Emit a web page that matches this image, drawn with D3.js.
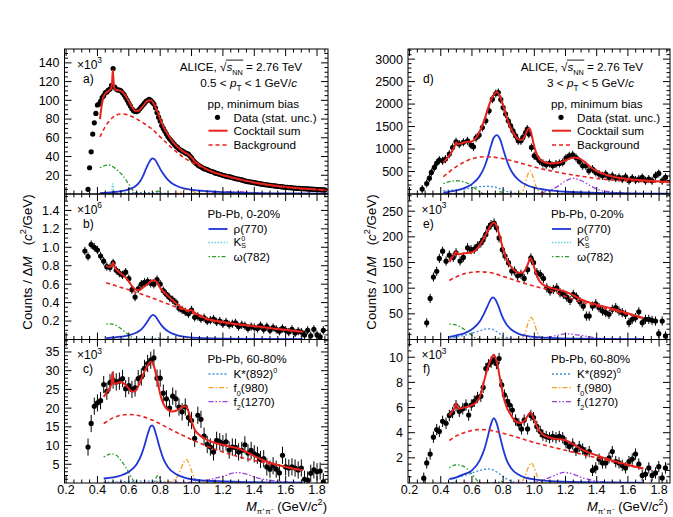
<!DOCTYPE html>
<html><head><meta charset="utf-8">
<script src="https://cdn.jsdelivr.net/npm/d3@7/dist/d3.min.js"></script>
<style>html,body{margin:0;padding:0;background:#fff;}svg{display:block}</style>
</head><body>
<svg id="chart" width="673" height="517"></svg>
<script>
// ================= DATA =================
const massTicks = [0.2,0.4,0.6,0.8,1.0,1.2,1.4,1.6,1.8];
const yTicksA = [20,40,60,80,100,120,140];
const yTicksB = [0.2,0.4,0.6,0.8,1.0,1.2,1.4];
const yTicksC = [5,10,15,20,25,30,35];
const yTicksD = [500,1000,1500,2000,2500,3000];
const yTicksE = [50,100,150,200,250];
const yTicksF = [2,4,6,8,10];

// panel a: pp 0.5<pT<1 (x10^3), bins of 0.01 from 0.34
const countsA = [5,28,45,64,76,86,95,96,99,103,
 105,108,109,111,112,116,134,114,112,111,
 111,110,108,106,103,100,97,94,91,89,
 88,88,89,91,93,95,97,99,100,101,
 100,98,96,92,87,82,78,73,70,67,
 64,61,59,57,55,53,51,50,48,47,
 46,45,44,43,42.5,40.5,38.5,36,34,32.5,
 31,30,29,28,27,26.5,26,25,24.5,24,
 23.5,22.5,22,21.5,21,20.5,20,19.5,19,18.5,
 18.5,18,17.5,17,16.5,16,16,15.5,15,14.5,
 14,13.5,13.2,13,12.7,12.4,12.1,11.8,11.5,11.1,
 10.8,10.5,10.2,10,9.8,9.5,9.3,9,8.8,8.6,
 8.4,8.2,8,7.8,7.6,7.4,7.2,7,6.9,6.7,
 6.6,6.4,6.3,6.1,6,5.9,5.8,5.7,5.6,5.5,
 5.4,5.3,5.2,5.1,5,4.9,4.8,4.7,4.6,4.5,
 4.4,4.3];
const massA = d3.range(countsA.length).map(i => +(0.34 + i * 0.01).toFixed(2));

// panel b: Pb-Pb 0-20% low pT (x10^6), bins of 0.02 from 0.32
const countsB = [0.96,0.90,1.03,1.00,0.97,0.905,0.85,0.79,0.78,0.83,
 0.75,0.72,0.70,0.73,0.66,0.54,0.46,0.55,0.60,0.62,
 0.63,0.61,0.60,0.65,0.60,0.53,0.49,0.455,0.43,0.40,
 0.34,0.32,0.30,0.28,0.32,0.24,0.25,0.225,0.235,0.20,
 0.21,0.22,0.19,0.20,0.17,0.19,0.16,0.17,0.18,0.14,
 0.16,0.15,0.12,0.14,0.13,0.12,0.15,0.11,0.14,0.10,
 0.13,0.11,0.09,0.12,0.10,0.08,0.11,0.07,0.09,0.08,
 0.05,0.10,0.04,0.11,0.05,0.03,0.10];
const massB = d3.range(countsB.length).map(i => +(0.32 + i * 0.02).toFixed(2));

// panel c: Pb-Pb 60-80% low pT (x10^3), bins of 0.02 from 0.34
const countsC = [9.6,15.9,20.5,21.4,22.0,26.3,24.5,26.8,27.5,27.0,
 27.2,27.9,25.2,26.0,25.0,25.4,27.9,28.3,30.6,31.9,
 32.8,33.4,28.0,28.0,24.0,22.5,20.0,23.2,22.5,20.3,
 19.0,20.3,17.5,16.7,11.9,18.1,17.0,12.5,10.3,9.6,
 8.3,11.4,11.0,10.5,11.0,8.8,9.6,9.5,8.3,8.7,
 10.2,8.0,8.7,7.8,7.4,6.3,6.5,4.3,3.7,4.6,
 3.7,2.7,7.4,4.3,4.0,4.3,4.0,3.5,4.0,1.0,
 0.8,2.6,3.5,3.0,3.2,0.3];
const massC = d3.range(countsC.length).map(i => +(0.34 + i * 0.02).toFixed(2));

// panel d: pp 3<pT<5, [mass, counts]
const pointsD = [[0.281,109],[0.31,234],[0.327,353],[0.34,479],[0.359,590],[0.374,687],[0.391,754],[0.412,738],[0.43,776],[0.455,887],[0.476,1034],[0.498,1161],[0.519,1110],[0.545,1150],[0.572,1183],[0.594,1090],[0.61,1050],[0.626,1250],[0.646,1310],[0.667,1479],[0.689,1628],[0.71,1850],[0.731,2110],[0.753,2235],[0.769,2258],[0.785,2100],[0.80,1924],[0.816,1777],[0.833,1628],[0.848,1517],[0.863,1406],[0.88,1295],[0.897,1183],[0.914,1183],[0.927,1258],[0.944,1368],[0.955,1443],[0.965,1332],[0.982,1035],[0.999,850],[1.016,812],[1.033,738],[1.055,680],[1.076,650],[1.097,680],[1.118,628],[1.139,665],[1.161,680],[1.182,702],[1.203,800],[1.224,850],[1.246,873],[1.267,812],[1.288,725],[1.31,628],[1.33,628],[1.35,517],[1.373,554],[1.394,480],[1.415,443],[1.437,406],[1.458,443],[1.479,369],[1.5,406],[1.522,354],[1.543,369],[1.564,332],[1.585,384],[1.607,295],[1.628,354],[1.649,310],[1.67,332],[1.692,369],[1.713,295],[1.734,332],[1.755,295],[1.777,406],[1.798,458],[1.82,295],[1.841,369]];
// panel e: Pb-Pb 0-20% 3<pT<5 (x10^3)
const pointsE = [[0.31,32.5],[0.332,80],[0.353,121.6],[0.374,133],[0.391,158],[0.412,172],[0.434,152.7],[0.455,164.4],[0.48,160],[0.498,169],[0.524,153],[0.545,160],[0.572,178.7],[0.594,175],[0.615,176],[0.635,182],[0.657,188],[0.671,194],[0.689,204.7],[0.706,217.7],[0.723,224],[0.742,227],[0.757,217.7],[0.774,198],[0.795,175],[0.812,162.5],[0.834,149.7],[0.855,133.5],[0.872,133.5],[0.893,124],[0.914,127],[0.935,119],[0.957,136],[0.978,159],[0.995,149.7],[1.016,130.3],[1.038,127],[1.059,119],[1.08,100.7],[1.101,94.3],[1.122,97.5],[1.144,100.7],[1.165,91],[1.186,88],[1.208,82.6],[1.229,76],[1.25,88],[1.271,82.6],[1.292,73.5],[1.314,65],[1.334,45.6],[1.352,45.6],[1.373,65],[1.394,69.7],[1.415,62],[1.437,55.5],[1.458,52.3],[1.479,49],[1.5,58.8],[1.522,62],[1.543,55.5],[1.564,52.3],[1.585,49],[1.607,32.8],[1.628,39.3],[1.649,42.6],[1.67,54],[1.692,32.8],[1.713,39.3],[1.734,39.3],[1.755,37.3],[1.777,36],[1.798,11.4],[1.82,36],[1.841,6.9]];
// panel f: Pb-Pb 60-80% 3<pT<5 (x10^3)
const pointsF = [[0.291,0.38],[0.31,1.6],[0.332,2.3],[0.353,3.64],[0.374,4.25],[0.391,4.1],[0.412,4.9],[0.434,4.75],[0.455,5.37],[0.476,5.6],[0.498,6.16],[0.519,5.7],[0.541,5.9],[0.562,6.2],[0.579,5.4],[0.596,6.2],[0.615,6.5],[0.636,6.8],[0.657,6.9],[0.672,7.6],[0.689,9.1],[0.706,9.4],[0.723,9.6],[0.742,9.8],[0.757,9.5],[0.774,9.9],[0.791,7.8],[0.808,7.0],[0.827,6.5],[0.842,6.2],[0.859,5.8],[0.88,5.0],[0.901,4.7],[0.918,4.3],[0.935,5.0],[0.957,4.3],[0.978,5.37],[0.995,5.2],[1.016,4.5],[1.038,4.1],[1.055,3.8],[1.076,3.7],[1.097,3.6],[1.118,3.7],[1.139,3.6],[1.16,3.7],[1.182,3.6],[1.203,3.2],[1.224,2.9],[1.246,3.1],[1.267,2.6],[1.288,2.9],[1.31,2.7],[1.33,2.4],[1.352,2.5],[1.373,1.0],[1.394,1.2],[1.415,1.9],[1.437,1.6],[1.458,1.6],[1.479,2.0],[1.5,2.5],[1.522,1.7],[1.543,1.6],[1.564,1.4],[1.585,1.2],[1.607,1.7],[1.628,1.9],[1.649,2.3],[1.67,1.5],[1.692,0.6],[1.713,0.7],[1.734,1.2],[1.755,0.6],[1.777,0.8],[1.798,1.3],[1.82,0.4],[1.841,1.2]];

const statErr = [1.2, 0.045, 2.3, 90, 9, 0.45];

// ---- fitted curves [mass, value] ----
const sumA = [[0.416,80],[0.425,92],[0.435,102],[0.45,107],[0.47,110],[0.485,112],[0.493,118],[0.498,132],[0.503,120],[0.51,111.5],[0.53,111],[0.55,110],[0.57,107],[0.60,99],[0.62,93],[0.64,89],[0.66,89],[0.68,92],[0.70,96],[0.72,99.5],[0.74,100],[0.76,96],[0.78,89],[0.80,80],[0.82,72],[0.84,66],[0.86,61],[0.88,56],[0.90,52],[0.92,49],[0.94,46],[0.96,44],[0.98,42],[1.00,39],[1.02,35],[1.05,31],[1.10,26],[1.15,22.5],[1.20,20],[1.25,18],[1.30,16],[1.35,14],[1.40,12.3],[1.50,9.5],[1.60,7.4],[1.70,5.9],[1.80,4.8],[1.87,4.3]];
const bkgA = [[0.416,61],[0.45,72],[0.50,82],[0.55,85.5],[0.60,84],[0.65,80],[0.70,75],[0.75,69],[0.80,61],[0.85,53],[0.90,45.5],[0.95,39],[1.00,34],[1.10,26],[1.20,20],[1.30,15.5],[1.40,12],[1.50,9.3],[1.60,7.2],[1.70,5.7],[1.80,4.6],[1.87,4.2]];
const rhoA = [[0.416,1],[0.50,2],[0.55,3],[0.60,5],[0.64,8],[0.67,13],[0.69,19],[0.71,27],[0.73,34],[0.75,38],[0.77,36],[0.79,30],[0.81,24],[0.84,17],[0.87,12],[0.90,9],[0.95,6],[1.00,4.5],[1.10,3],[1.20,2],[1.40,1],[1.60,0.6],[1.87,0.3]];
const omegaA = [[0.416,28],[0.44,30],[0.47,31],[0.50,29],[0.53,25],[0.56,20],[0.59,13],[0.61,8],[0.63,3],[0.65,0.5],[0.67,0],[0.76,0],[0.775,2.5],[0.785,3],[0.795,2.5],[0.81,0],[1.87,0]];
const ksA = [[0.416,0],[0.485,0],[0.492,4],[0.498,11],[0.504,4],[0.511,0],[1.87,0]];
const kstarA = [[0.416,0.5],[0.6,1],[0.7,1.5],[0.8,1],[0.9,0.2],[1.0,0],[1.87,0]];
const f0A = [[0.416,0],[0.85,0],[0.92,1],[0.95,4],[0.975,6],[1.0,4],[1.03,1],[1.1,0],[1.87,0]];
const f2A = [[0.416,0],[1.0,0],[1.1,0.8],[1.2,2],[1.27,2.6],[1.35,2],[1.45,0.8],[1.6,0.2],[1.87,0]];

const sumB = [[0.456,0.80],[0.47,0.79],[0.485,0.79],[0.494,0.815],[0.499,0.835],[0.505,0.81],[0.515,0.77],[0.54,0.73],[0.57,0.69],[0.60,0.63],[0.62,0.58],[0.64,0.545],[0.66,0.535],[0.68,0.55],[0.70,0.575],[0.72,0.60],[0.74,0.63],[0.76,0.645],[0.78,0.62],[0.80,0.56],[0.82,0.52],[0.84,0.49],[0.86,0.455],[0.88,0.425],[0.90,0.395],[0.92,0.365],[0.94,0.34],[0.96,0.325],[0.98,0.315],[0.995,0.32],[1.01,0.305],[1.03,0.28],[1.06,0.255],[1.10,0.225],[1.20,0.19],[1.30,0.165],[1.40,0.145],[1.50,0.125],[1.60,0.105],[1.708,0.085]];
const bkgB = [[0.456,0.615],[0.55,0.565],[0.65,0.51],[0.75,0.45],[0.85,0.385],[0.95,0.32],[1.0,0.29],[1.1,0.215],[1.2,0.18],[1.3,0.158],[1.4,0.14],[1.5,0.12],[1.6,0.1],[1.708,0.082]];
const rhoB = [[0.456,0.015],[0.55,0.03],[0.60,0.045],[0.65,0.075],[0.68,0.11],[0.70,0.15],[0.72,0.20],[0.74,0.25],[0.755,0.268],[0.77,0.25],[0.79,0.20],[0.81,0.15],[0.84,0.10],[0.87,0.07],[0.90,0.05],[0.95,0.03],[1.0,0.02],[1.2,0.01],[1.708,0.003]];
const omegaB = [[0.456,0.17],[0.48,0.17],[0.51,0.16],[0.54,0.13],[0.57,0.09],[0.60,0.05],[0.62,0.025],[0.64,0.005],[0.66,0],[0.76,0],[0.775,0.015],[0.785,0.02],[0.795,0.015],[0.81,0],[1.708,0]];
const ksB = [[0.456,0],[0.485,0],[0.493,0.02],[0.498,0.03],[0.503,0.02],[0.511,0],[1.708,0]];
const kstarB = [[0.456,0.003],[0.7,0.008],[0.9,0.002],[1.0,0],[1.708,0]];
const f0B = [[0.456,0],[0.85,0],[0.93,0.005],[0.975,0.012],[1.02,0.005],[1.1,0],[1.708,0]];
const f2B = [[0.456,0],[1.0,0],[1.2,0.005],[1.3,0.006],[1.45,0.003],[1.708,0]];

const sumC = [[0.44,23],[0.46,24.3],[0.48,25.5],[0.49,26.5],[0.495,29.5],[0.50,28.5],[0.505,26.5],[0.52,26.6],[0.55,27],[0.58,26.2],[0.60,25.2],[0.62,24.4],[0.64,24.5],[0.66,25.8],[0.68,27.8],[0.70,29.8],[0.72,31.4],[0.74,32.4],[0.76,31.2],[0.78,27.8],[0.80,23.8],[0.82,21.2],[0.84,19.9],[0.86,19.3],[0.88,19.1],[0.90,19.3],[0.92,19.7],[0.94,20.3],[0.96,20.5],[0.98,19.2],[1.00,16.5],[1.02,14.3],[1.05,12.8],[1.10,11.5],[1.15,10.7],[1.20,10.2],[1.25,9.7],[1.30,9.2],[1.35,8.3],[1.40,7.2],[1.45,6.2],[1.50,5.4],[1.55,4.8],[1.60,4.3],[1.65,3.8],[1.708,3.4]];
const bkgC = [[0.44,15.9],[0.5,17.4],[0.55,18.1],[0.6,18.3],[0.65,18.1],[0.7,17.6],[0.75,16.8],[0.8,15.8],[0.85,14.7],[0.9,13.6],[0.95,12.6],[1.0,11.6],[1.05,10.7],[1.1,9.8],[1.2,8.3],[1.3,7.0],[1.4,6.0],[1.5,5.1],[1.6,4.3],[1.708,3.4]];
const rhoC = [[0.44,1.2],[0.5,1.5],[0.55,2],[0.6,3],[0.65,5],[0.68,7.5],[0.70,10],[0.72,13],[0.74,15.2],[0.75,15.4],[0.76,14.8],[0.78,12],[0.80,9],[0.82,6.5],[0.85,4.2],[0.9,2.4],[0.95,1.5],[1.0,1.0],[1.1,0.6],[1.3,0.3],[1.708,0.1]];
const omegaC = [[0.44,6.9],[0.47,7.6],[0.49,7.8],[0.52,7.4],[0.55,6.0],[0.58,4.2],[0.60,2.8],[0.62,1.2],[0.64,0.3],[0.66,0],[0.76,0],[0.775,1.5],[0.785,2.0],[0.795,1.5],[0.81,0],[1.708,0]];
const ksC = [[0.44,0],[0.485,0],[0.493,0.3],[0.498,0.5],[0.503,0.3],[0.511,0],[1.708,0]];
const kstarC = [[0.44,0.2],[0.6,0.4],[0.7,0.5],[0.8,0.4],[0.9,0.15],[1.0,0.05],[1.708,0]];
const f0C = [[0.44,0],[0.85,0.2],[0.88,0.6],[0.91,1.8],[0.93,3.5],[0.95,5.5],[0.965,6.3],[0.98,5.6],[1.0,3.2],[1.02,1.3],[1.05,0.4],[1.1,0.1],[1.708,0]];
const f2C = [[0.44,0],[1.0,0.2],[1.1,0.8],[1.2,1.8],[1.29,2.8],[1.35,2.4],[1.4,1.6],[1.5,0.7],[1.6,0.3],[1.708,0.1]];

const sumD = [[0.417,700],[0.44,790],[0.46,880],[0.48,1000],[0.49,1080],[0.50,1145],[0.51,1110],[0.53,1120],[0.55,1150],[0.58,1160],[0.60,1170],[0.62,1220],[0.64,1320],[0.66,1470],[0.68,1650],[0.70,1870],[0.72,2070],[0.74,2210],[0.76,2270],[0.78,2170],[0.80,1970],[0.82,1740],[0.84,1540],[0.86,1390],[0.88,1280],[0.90,1210],[0.92,1200],[0.935,1260],[0.95,1380],[0.965,1460],[0.975,1420],[0.99,1200],[1.00,1050],[1.02,850],[1.05,730],[1.10,680],[1.15,690],[1.20,750],[1.25,810],[1.28,800],[1.32,720],[1.36,600],[1.40,510],[1.45,440],[1.50,390],[1.60,335],[1.70,305],[1.80,280],[1.87,270]];
const bkgD = [[0.417,383],[0.45,480],[0.5,610],[0.55,710],[0.6,785],[0.65,822],[0.7,830],[0.75,815],[0.8,785],[0.85,745],[0.9,700],[0.95,650],[1.0,600],[1.1,520],[1.2,450],[1.3,395],[1.4,345],[1.5,310],[1.6,290],[1.7,275],[1.8,263],[1.87,258]];
const rhoD = [[0.417,30],[0.5,80],[0.55,130],[0.6,220],[0.65,400],[0.68,600],[0.70,800],[0.72,1050],[0.74,1250],[0.76,1310],[0.78,1220],[0.80,1000],[0.82,780],[0.84,600],[0.87,420],[0.90,310],[0.95,200],[1.0,140],[1.1,80],[1.2,50],[1.4,25],[1.6,15],[1.87,8]];
const omegaD = [[0.417,230],[0.45,270],[0.50,295],[0.55,270],[0.60,180],[0.63,100],[0.66,30],[0.68,0],[0.76,0],[0.775,40],[0.785,50],[0.795,40],[0.81,0],[1.87,0]];
const ksD = [[0.417,0],[0.485,0],[0.493,25],[0.498,40],[0.503,25],[0.511,0],[1.87,0]];
const kstarD = [[0.417,70],[0.45,80],[0.5,90],[0.55,110],[0.6,140],[0.65,165],[0.7,172],[0.75,150],[0.8,85],[0.85,30],[0.9,10],[1.0,2],[1.87,0]];
const f0D = [[0.417,0],[0.9,5],[0.92,40],[0.94,200],[0.96,450],[0.975,510],[0.99,400],[1.01,180],[1.03,60],[1.06,10],[1.1,0],[1.87,0]];
const f2D = [[0.417,0],[1.0,10],[1.05,30],[1.1,80],[1.15,170],[1.2,290],[1.25,350],[1.3,300],[1.35,200],[1.4,110],[1.5,40],[1.6,15],[1.87,3]];

const sumE = [[0.455,151],[0.48,163],[0.49,166],[0.495,171],[0.50,170],[0.51,166],[0.55,168],[0.60,170],[0.62,173],[0.65,184],[0.68,199],[0.70,211],[0.72,222],[0.74,228],[0.76,220],[0.78,199],[0.80,176],[0.82,158],[0.84,146],[0.86,138],[0.88,133],[0.90,130],[0.92,130],[0.94,135],[0.96,148],[0.975,159],[0.99,150],[1.00,140],[1.02,121],[1.05,108],[1.10,101],[1.15,97],[1.20,93],[1.25,86],[1.30,78],[1.40,68],[1.50,60],[1.60,51],[1.70,42]];
const bkgE = [[0.455,115],[0.5,122],[0.55,128],[0.6,131],[0.65,132],[0.7,131],[0.75,128],[0.8,123],[0.85,118],[0.9,113],[0.95,108],[1.0,104],[1.1,96],[1.2,84],[1.3,73],[1.4,65],[1.5,57],[1.6,49],[1.7,40.5]];
const rhoE = [[0.455,5],[0.5,8],[0.55,12],[0.6,20],[0.65,35],[0.68,52],[0.70,65],[0.72,78],[0.735,82],[0.75,78],[0.77,65],[0.79,48],[0.82,30],[0.85,20],[0.9,11],[0.95,7],[1.0,5],[1.1,3],[1.3,1.5],[1.7,0.5]];
const omegaE = [[0.455,30],[0.5,28],[0.55,20],[0.6,8],[0.63,2],[0.65,0],[0.76,0],[0.775,3],[0.785,4],[0.795,3],[0.81,0],[1.7,0]];
const ksE = [[0.455,0],[0.485,0],[0.493,5],[0.498,8],[0.503,5],[0.511,0],[1.7,0]];
const kstarE = [[0.455,3],[0.5,5],[0.55,8],[0.6,12],[0.65,17],[0.7,21],[0.73,20],[0.76,15],[0.8,7],[0.85,2],[0.9,0.5],[1.0,0],[1.7,0]];
const f0E = [[0.455,0],[0.9,0.5],[0.92,3],[0.94,12],[0.96,32],[0.98,43],[1.0,32],[1.02,12],[1.04,3],[1.06,0.5],[1.1,0],[1.7,0]];
const f2E = [[0.455,0],[1.0,1],[1.1,5],[1.2,11],[1.3,8],[1.4,3],[1.5,1],[1.7,0.2]];

const sumF = [[0.455,5.37],[0.48,5.8],[0.49,6.0],[0.495,6.3],[0.50,6.25],[0.51,5.9],[0.55,6.0],[0.60,6.2],[0.64,6.6],[0.66,7.2],[0.68,8.2],[0.70,9.1],[0.72,9.8],[0.74,10.2],[0.76,9.6],[0.78,8.3],[0.80,7.0],[0.82,6.1],[0.84,5.6],[0.86,5.2],[0.88,4.9],[0.90,4.8],[0.92,4.8],[0.94,5.0],[0.96,5.4],[0.975,5.6],[0.99,5.3],[1.00,5.0],[1.02,4.4],[1.05,3.9],[1.10,3.6],[1.15,3.5],[1.20,3.4],[1.25,3.1],[1.30,2.7],[1.40,2.2],[1.50,1.8],[1.60,1.45],[1.70,1.15]];
const bkgF = [[0.455,3.38],[0.5,3.75],[0.55,4.0],[0.6,4.18],[0.65,4.25],[0.7,4.22],[0.75,4.1],[0.8,3.95],[0.85,3.78],[0.9,3.6],[0.95,3.4],[1.0,3.22],[1.1,2.9],[1.2,2.6],[1.3,2.3],[1.4,2.0],[1.5,1.7],[1.6,1.4],[1.7,1.12]];
const rhoF = [[0.455,0.3],[0.5,0.45],[0.55,0.7],[0.6,1.0],[0.65,1.8],[0.68,2.7],[0.70,3.6],[0.72,4.6],[0.74,5.15],[0.76,4.7],[0.78,3.7],[0.80,2.7],[0.82,1.9],[0.85,1.2],[0.9,0.65],[0.95,0.4],[1.0,0.28],[1.1,0.15],[1.3,0.07],[1.7,0.03]];
const omegaF = [[0.455,1.2],[0.5,1.45],[0.55,1.3],[0.6,0.7],[0.63,0.25],[0.65,0],[0.76,0],[0.775,0.1],[0.785,0.15],[0.795,0.1],[0.81,0],[1.7,0]];
const ksF = [[0.455,0],[0.485,0],[0.493,0.1],[0.498,0.15],[0.503,0.1],[0.511,0],[1.7,0]];
const kstarF = [[0.455,0.35],[0.5,0.45],[0.55,0.6],[0.6,0.8],[0.65,1.0],[0.7,1.12],[0.74,1.0],[0.78,0.7],[0.82,0.35],[0.86,0.12],[0.9,0.03],[1.0,0],[1.7,0]];
const f0F = [[0.455,0],[0.9,0.02],[0.92,0.1],[0.94,0.5],[0.96,1.2],[0.98,1.6],[1.0,1.2],[1.02,0.5],[1.04,0.15],[1.06,0.03],[1.1,0],[1.7,0]];
const f2F = [[0.455,0],[1.0,0.05],[1.05,0.2],[1.1,0.45],[1.15,0.7],[1.19,0.85],[1.25,0.7],[1.3,0.45],[1.4,0.15],[1.5,0.05],[1.7,0]];

// ================= DRAWING =================
const FONT = "'Liberation Sans', Arial, Helvetica, sans-serif";
const svg = d3.select("#chart");
svg.append("rect").attr("width",673).attr("height",517).attr("fill","#fff");

const cols = [[64.5, 328], [408, 670]];
const rows = [[49, 194], [194, 339.5], [339.5, 483]];
const massDomain = [0.19, 1.87];

const styles = {
  ks:    {color:"#5fd0e0", width:1.3, dash:"1.5,1.5"},
  omega: {color:"#2a9d2a", width:1.3, dash:"1.5,2,4,2"},
  kstar: {color:"#3f90e0", width:1.3, dash:"2,2"},
  f0:    {color:"#f4a024", width:1.3, dash:"5,2,1.5,2"},
  f2:    {color:"#9a40e0", width:1.3, dash:"5,2,1.5,2,1.5,2"},
  rho:   {color:"#1f36d6", width:1.8, dash:null},
  bkg:   {color:"#e8221c", width:1.6, dash:"4,3"},
  sum:   {color:"#e8221c", width:2.0, dash:null}
};
const drawOrder = ["ks","omega","kstar","f0","f2","rho","bkg","sum"];

function zip(m, v){ return m.map((x,i)=>[x, v[i]]); }

const panels = [
 {id:"a", col:0, row:0, yMax:154.8, ticks:yTicksA, minor:5, fmt:d3.format("d"), exp:"3", pts:zip(massA,countsA), err:statErr[0],
  curves:{sum:sumA,bkg:bkgA,rho:rhoA,omega:omegaA,ks:ksA,kstar:kstarA,f0:f0A,f2:f2A}},
 {id:"b", col:0, row:1, yMax:1.578, ticks:yTicksB, minor:0.05, fmt:d3.format(".1f"), exp:"6", pts:zip(massB,countsB), err:statErr[1],
  curves:{sum:sumB,bkg:bkgB,rho:rhoB,omega:omegaB,ks:ksB,kstar:kstarB,f0:f0B,f2:f2B}},
 {id:"c", col:0, row:2, yMax:38.33, ticks:yTicksC, minor:1, fmt:d3.format("d"), exp:"3", pts:zip(massC,countsC), err:statErr[2],
  curves:{sum:sumC,bkg:bkgC,rho:rhoC,omega:omegaC,ks:ksC,kstar:kstarC,f0:f0C,f2:f2C}},
 {id:"d", col:1, row:0, yMax:3225, ticks:yTicksD, minor:100, fmt:d3.format("d"), exp:null, pts:pointsD, err:statErr[3],
  curves:{sum:sumD,bkg:bkgD,rho:rhoD,omega:omegaD,ks:ksD,kstar:kstarD,f0:f0D,f2:f2D}},
 {id:"e", col:1, row:1, yMax:283.5, ticks:yTicksE, minor:10, fmt:d3.format("d"), exp:"3", pts:pointsE, err:statErr[4],
  curves:{sum:sumE,bkg:bkgE,rho:rhoE,omega:omegaE,ks:ksE,kstar:kstarE,f0:f0E,f2:f2E}},
 {id:"f", col:1, row:2, yMax:11.41, ticks:yTicksF, minor:0.5, fmt:d3.format("d"), exp:"3", pts:pointsF, err:statErr[5],
  curves:{sum:sumF,bkg:bkgF,rho:rhoF,omega:omegaF,ks:ksF,kstar:kstarF,f0:f0F,f2:f2F}}
];

function rich(g, x, y, parts, size, anchor){
  const t = g.append("text").attr("x",x).attr("y",y).attr("font-size",size)
    .attr("font-family",FONT).attr("text-anchor",anchor||"start").attr("fill","#000")
    .style("white-space","pre");
  let shift = 0;
  parts.forEach(p=>{
    const s = p.sub ? (p.subShift||0.3)*size : (p.sup ? -0.42*size : 0);
    const ts = t.append("tspan").text(p.t).attr("dy", (s-shift).toFixed(2));
    if (p.dx) ts.attr("dx", p.dx);
    shift = s;
    if (p.sub || p.sup) ts.attr("font-size", (size*(p.scale||0.7)).toFixed(2));
    if (p.i) ts.attr("font-style","italic");
  });
  return t;
}

panels.forEach((p, idx)=>{
  const [x0,x1] = cols[p.col];
  const [y0,y1] = rows[p.row];
  const x = d3.scaleLinear().domain(massDomain).range([x0,x1]);
  const y = d3.scaleLinear().domain([0,p.yMax]).range([y1,y0]);
  const g = svg.append("g");
  const cid = "clip"+p.id;
  svg.append("clipPath").attr("id",cid).append("rect").attr("x",x0).attr("y",y0).attr("width",x1-x0).attr("height",y1-y0);
  const plot = g.append("g").attr("clip-path",`url(#${cid})`);

  const dg = plot.append("g");
  dg.selectAll("line.err").data(p.pts).join("line")
    .attr("x1",d=>x(d[0])).attr("x2",d=>x(d[0]))
    .attr("y1",d=>y(d[1]-p.err)).attr("y2",d=>y(d[1]+p.err))
    .attr("stroke","#000").attr("stroke-width",1);
  dg.selectAll("circle").data(p.pts).join("circle")
    .attr("cx",d=>x(d[0])).attr("cy",d=>y(d[1])).attr("r",2.6).attr("fill","#000");

  const line = d3.line().x(d=>x(d[0])).y(d=>y(d[1])).curve(d3.curveMonotoneX);
  drawOrder.forEach(k=>{
    const st = styles[k];
    plot.append("path").attr("d", line(p.curves[k])).attr("fill","none")
      .attr("stroke",st.color).attr("stroke-width",st.width)
      .attr("stroke-dasharray", st.dash).attr("stroke-linejoin","round");
  });

  g.append("rect").attr("x",x0).attr("y",y0).attr("width",x1-x0).attr("height",y1-y0)
    .attr("fill","none").attr("stroke","#000").attr("stroke-width",1);
  const tk = g.append("g").attr("stroke","#000").attr("stroke-width",1);
  d3.range(0, p.yMax+1e-9, p.minor).forEach(v=>{
    const major = p.ticks.some(t=>Math.abs(t-v)<1e-6);
    const L = major ? 7 : 3.5;
    const yy = y(v);
    if (yy < y0+0.5 || yy > y1-0.5) return;
    tk.append("line").attr("x1",x0).attr("x2",x0+L).attr("y1",yy).attr("y2",yy);
    tk.append("line").attr("x1",x1).attr("x2",x1-L).attr("y1",yy).attr("y2",yy);
  });
  d3.range(0.2, 1.871, 0.05).forEach(v=>{
    const major = massTicks.some(t=>Math.abs(t-v)<1e-6);
    const L = major ? 7 : 3.5;
    const xx = x(v);
    tk.append("line").attr("x1",xx).attr("x2",xx).attr("y1",y1).attr("y2",y1-L);
    tk.append("line").attr("x1",xx).attr("x2",xx).attr("y1",y0).attr("y2",y0+L);
  });
  p.ticks.forEach(v=>{
    g.append("text").attr("x",x0-5).attr("y",y(v)+4.4).attr("text-anchor","end")
      .attr("font-size",12.5).attr("font-family",FONT).text(p.fmt(v));
  });
  if (p.row===2){
    massTicks.forEach(v=>{
      g.append("text").attr("x",x(v)).attr("y",494).attr("text-anchor","middle")
        .attr("font-size",12.5).attr("font-family",FONT).text(d3.format(".1f")(v));
    });
  }
  const exOff = p.col===0 ? 12.5 : 13.5;
  if (p.exp) rich(g, x0+exOff, y0+19.5, [{t:"\u00d710"},{t:p.exp,sup:true}], 12);
  g.append("text").attr("x", x0 + (p.col===0?18.5:15)).attr("y", y0+33.5)
    .attr("font-size",12).attr("font-family",FONT).text(p.id+")");
});

// ================= LEGENDS =================
const LS = 11.7;
function legLine(x, yv, key){
  const st = styles[key];
  svg.append("line").attr("x1",x).attr("x2",x+19).attr("y1",yv).attr("y2",yv)
    .attr("stroke",st.color).attr("stroke-width",st.width).attr("stroke-dasharray",st.dash);
}
function sqrtHeader(xEnd, yb){
  const t = rich(svg, xEnd, yb, [{t:"ALICE, \u221a"},{t:"s",i:true},{t:"NN",sub:true,scale:0.62},{t:" = 2.76 TeV"}], LS, "end");
  const n = t.node();
  try{
    const a = n.getEndPositionOfChar(7).x;
    const b = n.getEndPositionOfChar(10).x;
    const top = n.getStartPositionOfChar(7).y - LS*0.93;
    svg.append("line").attr("x1",a-0.5).attr("x2",b+0.5).attr("y1",top).attr("y2",top)
      .attr("stroke","#000").attr("stroke-width",0.9);
  }catch(e){}
}
[[0, "0.5", "1", 302, 297],[1, "3", "5", 643, 634]].forEach(([c, lo, hi, xe1, xe2])=>{
  const x0 = cols[c][0];
  sqrtHeader(xe1, 71);
  rich(svg, xe2, 87, [{t:lo+" < "},{t:"p",i:true},{t:"T",sub:true},{t:" < "+hi+" GeV/"},{t:"c",i:true}], LS, "end");
  rich(svg, x0+143, 107.5, [{t:"pp, minimum bias"}], LS);
  svg.append("circle").attr("cx",x0+153).attr("cy",117.3).attr("r",2.6).attr("fill","#000");
  rich(svg, x0+169, 121.5, [{t:"Data (stat. unc.)"}], LS);
  legLine(x0+144, 130.7, "sum");
  rich(svg, x0+169, 135, [{t:"Cocktail sum"}], LS);
  legLine(x0+144, 145, "bkg");
  rich(svg, x0+169, 149.3, [{t:"Background"}], LS);
});
[0,1].forEach(c=>{
  const x0 = cols[c][0];
  rich(svg, x0+143, 217.5, [{t:"Pb-Pb, 0-20%"}], LS);
  legLine(x0+144, 229, "rho");
  rich(svg, x0+169, 233.2, [{t:"\u03c1(770)"}], LS);
  legLine(x0+144, 242.5, "ks");
  rich(svg, x0+169, 246, [{t:"K"},{t:"0",sup:true,scale:0.6},{t:"S",sub:true,scale:0.6,subShift:0.2,dx:-4}], LS);
  legLine(x0+144, 256.7, "omega");
  rich(svg, x0+169, 261, [{t:"\u03c9(782)"}], LS);
});
[0,1].forEach(c=>{
  const x0 = cols[c][0];
  rich(svg, x0+143, 362.5, [{t:"Pb-Pb, 60-80%"}], LS);
  legLine(x0+144, 374, "kstar");
  rich(svg, x0+169, 378.2, [{t:"K*(892)"},{t:"0",sup:true,scale:0.62}], LS);
  legLine(x0+144, 387.7, "f0");
  rich(svg, x0+169, 392, [{t:"f"},{t:"0",sub:true,scale:0.62},{t:"(980)"}], LS);
  legLine(x0+144, 401.7, "f2");
  rich(svg, x0+169, 406, [{t:"f"},{t:"2",sub:true,scale:0.62},{t:"(1270)"}], LS);
});

// ================= AXIS TITLES =================
[[32, 0],[375.5, 1]].forEach(([xb, c])=>{
  const g = svg.append("g").attr("transform",`translate(${xb},262) rotate(-90)`);
  rich(g, 0, 0, [{t:"Counts / \u0394"},{t:"M",i:true},{t:"\u00a0\u00a0\u00a0("},{t:"c",i:true},{t:"2",sup:true},{t:"/GeV)"}], 13.3, "middle");
});
[[327, 0],[668, 1]].forEach(([xe, c])=>{
  rich(svg, xe, 510.5, [{t:"M",i:true},{t:"\u03c0\u207a\u03c0\u207b",sub:true,scale:0.6,subShift:0.25},{t:" (GeV/"},{t:"c",i:true},{t:"2",sup:true},{t:")"}], 13, "end");
});
</script>
</body></html>
